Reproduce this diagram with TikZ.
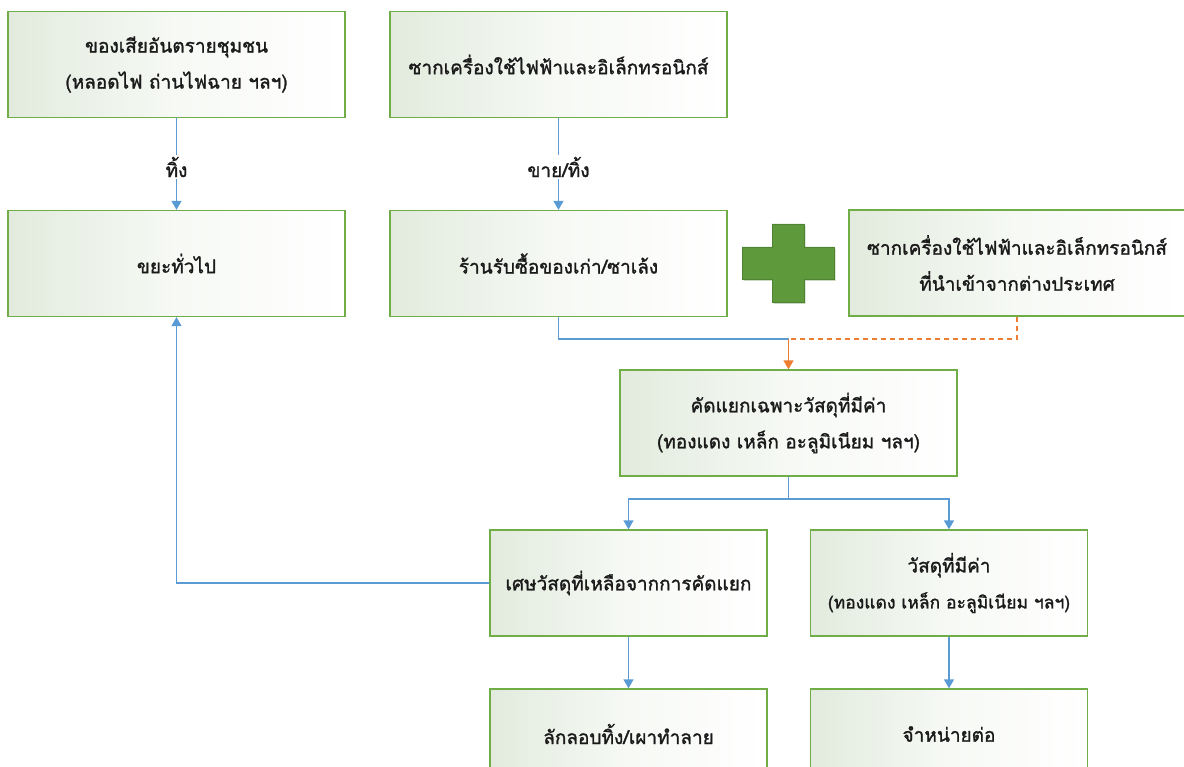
\documentclass[tikz,border=0pt]{standalone}
\usepackage{fontspec}
\usetikzlibrary{arrows.meta,calc}
\newfontfamily\thai[Script=Thai,FakeBold=1.4]{Loma}
\definecolor{boxline}{HTML}{70AD47}
\definecolor{boxfill}{HTML}{E2EBDD}
\definecolor{flow}{HTML}{5B9BD5}
\definecolor{orng}{HTML}{ED7D31}
\definecolor{plusg}{HTML}{5E9A3C}
\definecolor{plusd}{HTML}{4F8232}
\definecolor{txt}{HTML}{1A1A1A}
\tikzset{
  box/.style={draw=boxline, line width=1.3pt, left color=boxfill, right color=white, middle color=white!70!boxfill,
    minimum width=337pt, minimum height=106pt, align=center, text=txt,
    font=\thai\fontsize{19}{36}\selectfont, inner sep=0pt},
  smallbox/.style={box, minimum width=277pt},
  lbl/.style={font=\thai\fontsize{19}{20}\selectfont, text=txt, inner sep=2pt},
  flowline/.style={draw=flow, line width=1.4pt},
  flowarrow/.style={flowline, -{Triangle[width=10pt,length=9pt]}},
  importarrow/.style={draw=orng, line width=1.4pt, dashed, dash pattern=on 5pt off 4pt},
}
\begin{document}
\begin{tikzpicture}[x=1pt,y=-1pt]
\useasboundingbox (0,0) rectangle (1184,767);
% boxes
\node[box] (A) at (176.5,64.5) {ของเสียอันตรายชุมชน\\(หลอดไฟ ถ่านไฟฉาย ฯลฯ)};
\node[box] (B) at (176.5,263.5) {ขยะทั่วไป};
\node[box] (C) at (558.5,64.5) {ซากเครื่องใช้ไฟฟ้าและอิเล็กทรอนิกส์};
\node[box] (D) at (558.5,263.5) {ร้านรับซื้อของเก่า/ซาเล้ง};
\node[box, minimum width=336pt] (E) at (1017,263) {ซากเครื่องใช้ไฟฟ้าและอิเล็กทรอนิกส์\\ที่นำเข้าจากต่างประเทศ};
\node[box] (F) at (788.5,423) {คัดแยกเฉพาะวัสดุที่มีค่า\\(ทองแดง เหล็ก อะลูมิเนียม ฯลฯ)};
\node[smallbox] (G) at (628.5,583) {เศษวัสดุที่เหลือจากการคัดแยก};
\node[smallbox] (H) at (949,583) {วัสดุที่มีค่า\\{\fontsize{17.5}{20}\selectfont(ทองแดง เหล็ก อะลูมิเนียม ฯลฯ)}};
\node[smallbox, minimum height=90pt] (I) at (628.5,734) {ลักลอบทิ้ง/เผาทำลาย};
\node[smallbox, minimum height=90pt] (J) at (949,734) {จำหน่ายต่อ};
% plus sign
\fill[plusd!60!white, opacity=0.5, xshift=1.5pt, yshift=-2pt]
  (772,224) -- (804,224) -- (804,247) -- (834,247) -- (834,279) -- (804,279) -- (804,302) -- (772,302) -- (772,279) -- (742,279) -- (742,247) -- (772,247) -- cycle;
\draw[fill=plusg, draw=plusd, line width=0.6pt]
  (772,224) -- (804,224) -- (804,247) -- (834,247) -- (834,279) -- (804,279) -- (804,302) -- (772,302) -- (772,279) -- (742,279) -- (742,247) -- (772,247) -- cycle;
% labels
\node[lbl] (l1) at (176.5,167) {ทิ้ง};
\node[lbl] (l2) at (558.5,167) {ขาย/ทิ้ง};
% connectors
\draw[flowline] (A.south) -- (l1.north);
\draw[flowarrow] (l1.south) -- (B.north);
\draw[flowline] (C.south) -- (l2.north);
\draw[flowarrow] (l2.south) -- (D.north);
\coordinate (m) at (788.5,339);
\draw[flowline] (D.south) |- (m);
\draw[importarrow] (E.south) |- (m);
\draw[draw=orng, line width=1.4pt, -{Triangle[width=10pt,length=9pt]}] (m) -- (F.north);
\coordinate (s) at (788.5,499);
\draw[flowline] (F.south) -- (s);
\draw[flowarrow] (s) -| (G.north);
\draw[flowarrow] (s) -| (H.north);
\draw[flowarrow] (G.south) -- (I.north);
\draw[flowarrow] (H.south) -- (J.north);
\draw[flowarrow] (G.west) -| (B.south);
\end{tikzpicture}
\end{document}
